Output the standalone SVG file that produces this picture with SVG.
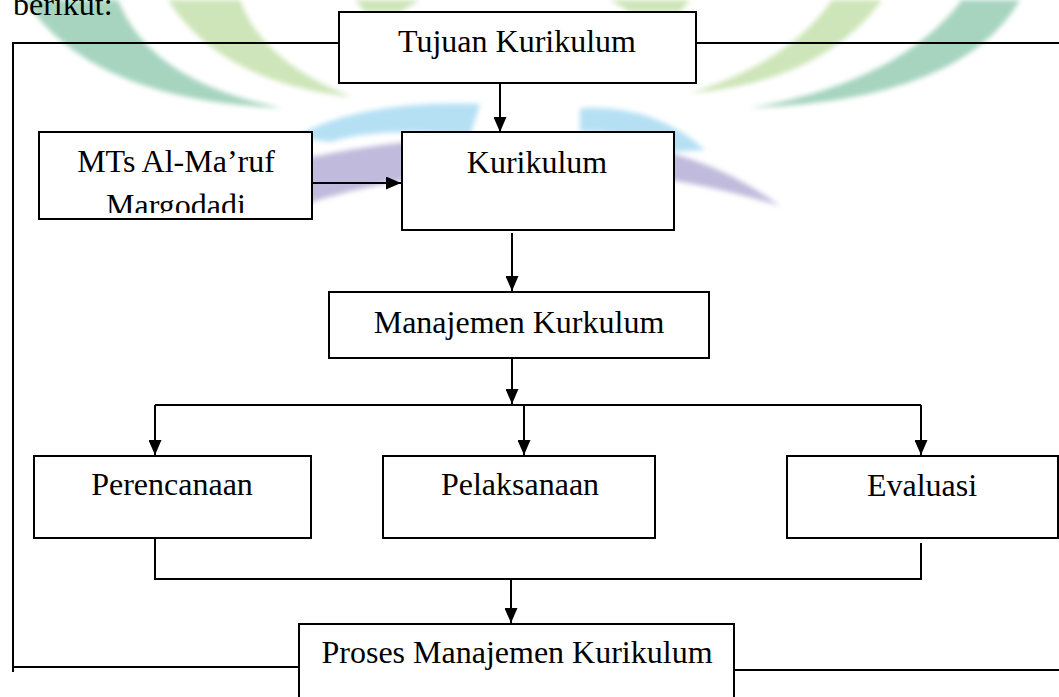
<svg xmlns="http://www.w3.org/2000/svg" width="1059" height="697" viewBox="0 0 1059 697">
<style>
.box{fill:#fff;stroke:#000;stroke-width:2}
.ln{fill:none;stroke:#000;stroke-width:2}
.t{font-family:"Liberation Serif","Times New Roman",serif;font-size:32px;fill:#000;text-anchor:middle}
</style>
<defs>
<marker id="ah" markerUnits="userSpaceOnUse" markerWidth="15" markerHeight="13" refX="15" refY="6.5" orient="auto">
<path d="M0,0 L15,6.5 L0,13 Z" fill="#000"/>
</marker>
<filter id="blur" x="-10%" y="-10%" width="120%" height="120%"><feGaussianBlur stdDeviation="2.5"/></filter>
<clipPath id="mtsclip"><rect x="39" y="132" width="273" height="81"/></clipPath>
</defs>
<rect width="1059" height="697" fill="#fff"/>
<g id="watermark" filter="url(#blur)">
<path d="M25,0 Q90,100 282,108 Q150,82 118,0 Z" fill="#a6d4bf"/>
<path d="M168,0 Q220,82 352,97 Q262,62 240,0 Z" fill="#cde5b8"/>
<path d="M1020,0 Q962,100 750,108 Q900,82 962,0 Z" fill="#a6d4bf"/>
<path d="M882,0 Q822,82 690,93 Q790,62 832,0 Z" fill="#cde5b8"/>
<path d="M355,0 L420,0 L400,12 L365,12 Z" fill="#cde5b8"/>
<path d="M610,0 L690,0 L680,12 L630,12 Z" fill="#cde5b8"/>
<path d="M295,137 Q360,100 480,104 L470,136 Q380,126 330,142 Z" fill="#b5e0f4"/>
<path d="M580,108 Q655,104 705,150 L665,152 Q622,130 580,132 Z" fill="#b5e0f4"/>
<path d="M250,172 Q420,125 600,140 Q705,150 780,206 Q690,178 600,172 Q430,162 300,206 Z" fill="#c0bbdc"/>
</g>
<text x="13" y="15" style="font-family:'Liberation Serif','Times New Roman',serif;font-size:32px;fill:#000">berikut:</text>
<g id="connectors">
<path class="ln" d="M339,43 H13 V672"/>
<path class="ln" d="M13,667 H299"/>
<path class="ln" d="M696,43 H1059"/>
<path class="ln" d="M734,670 H1059"/>
<path class="ln" d="M500,83 V132" marker-end="url(#ah)"/>
<path class="ln" d="M311,183 H401" marker-end="url(#ah)"/>
<path class="ln" d="M512,233 V291" marker-end="url(#ah)"/>
<path class="ln" d="M512,358 V404" marker-end="url(#ah)"/>
<path class="ln" d="M155,405 H921"/>
<path class="ln" d="M155,405 V455" marker-end="url(#ah)"/>
<path class="ln" d="M524,405 V455" marker-end="url(#ah)"/>
<path class="ln" d="M921,405 V455" marker-end="url(#ah)"/>
<path class="ln" d="M155,538 V579 H921 V543"/>
<path class="ln" d="M511,579 V623" marker-end="url(#ah)"/>
</g>
<g id="tujuan"><rect class="box" x="339" y="12" width="357" height="71"/><text class="t" x="517" y="52">Tujuan Kurikulum</text></g>
<g id="mts"><rect class="box" x="39" y="132" width="273" height="87"/><g clip-path="url(#mtsclip)"><text class="t" x="176" y="172">MTs Al-Ma’ruf</text><text class="t" x="176" y="216">Margodadi</text></g></g>
<g id="kurikulum"><rect class="box" x="402" y="132" width="272" height="98"/><text class="t" x="537" y="173">Kurikulum</text></g>
<g id="manajemen"><rect class="box" x="329" y="292" width="380" height="66"/><text class="t" x="519" y="333">Manajemen Kurkulum</text></g>
<g id="perencanaan"><rect class="box" x="34" y="456" width="277" height="82"/><text class="t" x="172" y="495">Perencanaan</text></g>
<g id="pelaksanaan"><rect class="box" x="383" y="456" width="272" height="82"/><text class="t" x="520" y="495">Pelaksanaan</text></g>
<g id="evaluasi"><rect class="box" x="787" y="456" width="271" height="82"/><text class="t" x="922" y="496">Evaluasi</text></g>
<g id="proses"><rect class="box" x="299" y="624" width="435" height="100"/><text class="t" x="517" y="663">Proses Manajemen Kurikulum</text></g>
</svg>
